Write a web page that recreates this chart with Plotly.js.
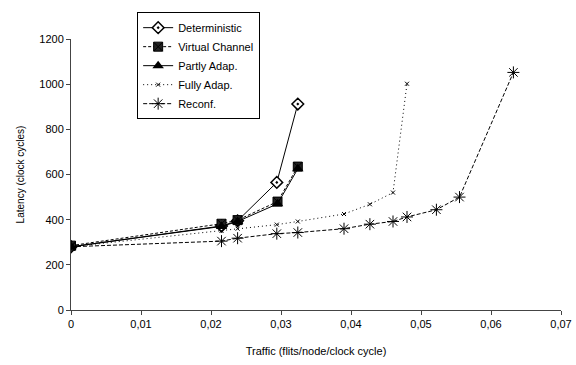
<!DOCTYPE html>
<html>
<head>
<meta charset="utf-8">
<script src="https://cdn.plot.ly/plotly-3.0.1.min.js"></script>
<style>html,body{margin:0;padding:0;background:#fff}#chart{width:576px;height:365px}</style>
</head>
<body>
<div id="chart"></div>
<script>
const detX = [0, 0.0215, 0.0238, 0.0294, 0.0324];
const detY = [280, 372, 395, 565, 912];
const vcX = [0, 0.0215, 0.0238, 0.0295, 0.0324];
const vcY = [285, 382, 398, 480, 635];
const paX = [0, 0.0215, 0.0238, 0.0295, 0.0324];
const paY = [280, 370, 392, 470, 625];
const faX = [0, 0.0215, 0.0238, 0.0294, 0.0324, 0.039, 0.0427, 0.046, 0.048];
const faY = [280, 350, 360, 378, 392, 425, 468, 520, 1002];
const rcX = [0, 0.0215, 0.0238, 0.0294, 0.0324, 0.039, 0.0427, 0.046, 0.048, 0.0522, 0.0555, 0.0632];
const rcY = [280, 305, 318, 338, 343, 360, 380, 392, 412, 444, 500, 1052];
const names = ['Deterministic', 'Virtual Channel', 'Partly Adap.', 'Fully Adap.', 'Reconf.'];

const traces = [
  {x: detX, y: detY, name: names[0], mode: 'lines+markers',
   line: {color: '#000', width: 1},
   marker: {symbol: 'diamond-dot', size: 9, color: '#fff', line: {color: '#000', width: 1.5}}},
  {x: vcX, y: vcY, name: names[1], mode: 'lines+markers',
   line: {color: '#000', width: 1, dash: '3px,2px'},
   marker: {symbol: 'square-x', size: 9, color: '#222', line: {color: '#000', width: 1}}},
  {x: paX, y: paY, name: names[2], mode: 'lines+markers',
   line: {color: '#000', width: 1},
   marker: {symbol: 'triangle-up', size: 10, color: '#000'}},
  {x: faX, y: faY, name: names[3], mode: 'lines+markers',
   line: {color: '#000', width: 1, dash: '1px,3px'},
   marker: {symbol: 'x-thin-open', size: 4, color: '#000', line: {color: '#000', width: 1}}},
  {x: rcX, y: rcY, name: names[4], mode: 'lines+markers',
   line: {color: '#000', width: 1, dash: '4px,2px'},
   marker: {symbol: 'asterisk-open', size: 10, color: '#000', line: {color: '#000', width: 1}}}
];

const layout = {
  width: 576, height: 365,
  margin: {l: 71, r: 15, t: 37, b: 55},
  paper_bgcolor: '#fff', plot_bgcolor: '#fff',
  separators: ', ',
  font: {family: 'Liberation Sans, Arial, sans-serif', size: 11, color: '#000'},
  showlegend: true,
  legend: {x: 0.135, y: 1.099, xanchor: 'left', yanchor: 'top',
    bordercolor: '#000', borderwidth: 1, bgcolor: '#fff',
    font: {size: 11}, tracegroupgap: 0},
  xaxis: {range: [0, 0.07], dtick: 0.01, tick0: 0, showgrid: false, zeroline: false,
    showline: true, linecolor: '#444', linewidth: 1, ticks: 'outside', ticklen: 4, tickcolor: '#444',
    tickfont: {size: 11}, title: {text: 'Traffic (flits/node/clock cycle)', font: {size: 11}, standoff: 18}},
  yaxis: {range: [0, 1200], dtick: 200, showgrid: false, zeroline: false,
    showline: true, linecolor: '#444', linewidth: 1, ticks: 'outside', ticklen: 4, tickcolor: '#444',
    tickfont: {size: 11}, title: {text: 'Latency (clock cycles)', font: {size: 10}, standoff: 12}}
};

Plotly.newPlot('chart', traces, layout, {displayModeBar: false, staticPlot: true});
</script>
</body>
</html>
